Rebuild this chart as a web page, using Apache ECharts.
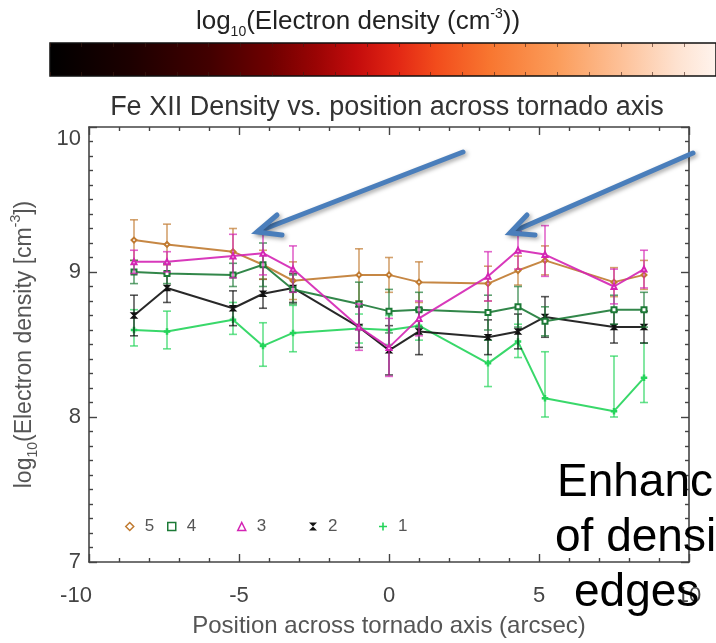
<!DOCTYPE html>
<html>
<head>
<meta charset="utf-8">
<script src="https://cdn.jsdelivr.net/npm/echarts@6/dist/echarts.min.js"></script>
<style>html,body{margin:0;padding:0;background:#fff;}#c{width:716px;height:643px;}</style>
</head>
<body>
<div id="c"></div>
<script>
// ---- data ----
const positions = [-8.5, -7.4, -5.2, -4.2, -3.2, -1.0, 0.0, 1.0, 3.3, 4.3, 5.2, 7.5, 8.5];
const xTicks = [-10, -5, 0, 5, 10];
const yTicks = [7, 8, 9, 10];

const dens5 = [9.22, 9.19, 9.14, 9.05, 8.94, 8.98, 8.98, 8.93, 8.92, 9.01, 9.08, 8.93, 8.98];
const up5   = [0.14, 0.14, 0.16, 0.10, 0.13, 0.18, 0.12, 0.14, 0.12, 0.10, 0.10, 0.10, 0.10];
const dn5   = [0.14, 0.14, 0.16, 0.10, 0.13, 0.18, 0.12, 0.14, 0.12, 0.10, 0.10, 0.10, 0.10];

const dens4 = [9.00, 8.99, 8.98, 9.05, 8.88, 8.78, 8.73, 8.74, 8.72, 8.76, 8.66, 8.74, 8.74];
const up4   = [0.08, 0.07, 0.08, 0.15, 0.10, 0.15, 0.15, 0.12, 0.12, 0.14, 0.10, 0.10, 0.12];
const dn4   = [0.08, 0.07, 0.08, 0.15, 0.10, 0.15, 0.15, 0.12, 0.12, 0.14, 0.10, 0.10, 0.12];

const dens3 = [9.07, 9.07, 9.11, 9.13, 9.02, 8.62, 8.48, 8.68, 8.97, 9.15, 9.12, 8.90, 9.02];
const up3   = [0.08, 0.07, 0.15, 0.15, 0.16, 0.16, 0.20, 0.12, 0.17, 0.13, 0.20, 0.12, 0.13];
const dn3   = [0.08, 0.07, 0.15, 0.15, 0.16, 0.16, 0.20, 0.12, 0.17, 0.13, 0.15, 0.12, 0.13];

const dens2 = [8.70, 8.89, 8.75, 8.85, 8.89, 8.62, 8.46, 8.59, 8.55, 8.59, 8.69, 8.62, 8.62];
const up2   = [0.14, 0.10, 0.12, 0.10, 0.10, 0.14, 0.17, 0.16, 0.12, 0.12, 0.14, 0.11, 0.11];
const dn2   = [0.14, 0.10, 0.12, 0.10, 0.10, 0.14, 0.17, 0.16, 0.12, 0.12, 0.14, 0.11, 0.11];

const dens1 = [8.60, 8.59, 8.67, 8.49, 8.58, 8.61, 8.60, 8.63, 8.37, 8.52, 8.13, 8.04, 8.27];
const up1   = [0.14, 0.14, 0.12, 0.16, 0.19, 0.10, 0.10, 0.10, 0.16, 0.12, 0.32, 0.38, 0.24];
const dn1   = [0.11, 0.12, 0.10, 0.14, 0.13, 0.10, 0.10, 0.10, 0.16, 0.11, 0.13, 0.04, 0.17];

const seriesNames = ['5', '4', '3', '2', '1'];
// ------------------------------------------------

const C5 = '#c07a30', C4 = '#1c7a36', C3 = '#d424b4', C2 = '#111111', C1 = '#24d45a';
const FONT = 'Liberation Sans, Arial, Helvetica, sans-serif';
const PLUS = 'path://M4,0h2v4h4v2h-4v4h-2v-4h-4v-2h4z';
const BOWTIE = 'path://M0,0L10,0L5,5L10,10L0,10L5,5Z';

function lineSeries(name, color, vals, symbol, z) {
  return {
    type: 'line', name: name, xAxisIndex: 0, yAxisIndex: 0,
    data: positions.map((x, i) => [x, vals[i]]),
    symbol: symbol, symbolSize: 5, showSymbol: true,
    lineStyle: { color: color, width: 2, opacity: 0.9 },
    itemStyle: { color: color, borderColor: color, borderWidth: 1.5 },
    z: z, animation: false, silent: true
  };
}
function errSeries(name, color, vals, up, dn, z) {
  return {
    type: 'custom', name: name, xAxisIndex: 0, yAxisIndex: 0,
    data: positions.map((x, i) => [x, vals[i] - dn[i], vals[i] + up[i]]),
    encode: { x: 0, y: [1, 2] },
    renderItem: function (params, api) {
      const lo = api.coord([api.value(0), api.value(1)]);
      const hi = api.coord([api.value(0), api.value(2)]);
      const w = 4;
      const st = { stroke: color, lineWidth: 1.6, opacity: 0.7 };
      return { type: 'group', children: [
        { type: 'line', shape: { x1: lo[0], y1: lo[1], x2: hi[0], y2: hi[1] }, style: st },
        { type: 'line', shape: { x1: lo[0] - w, y1: lo[1], x2: lo[0] + w, y2: lo[1] }, style: st },
        { type: 'line', shape: { x1: hi[0] - w, y1: hi[1], x2: hi[0] + w, y2: hi[1] }, style: st }
      ]};
    },
    z: z, animation: false, silent: true
  };
}

const axisLine = { show: true, onZero: false, lineStyle: { color: '#444', width: 1.6 } };
const tickStyle = { color: '#444', width: 1.4 };

const legendDefs = [
  { name: seriesNames[0], left: 120, icon: 'diamond', color: C5, empty: true },
  { name: seriesNames[1], left: 162, icon: 'rect', color: C4, empty: true },
  { name: seriesNames[2], left: 232, icon: 'triangle', color: C3, empty: true },
  { name: seriesNames[3], left: 304, icon: BOWTIE, color: C2, empty: false },
  { name: seriesNames[4], left: 374, icon: PLUS, color: C1, empty: false }
];

const chart = echarts.init(document.getElementById('c'), null, { renderer: 'canvas' });

const gradient = new echarts.graphic.LinearGradient(0, 0, 1, 0, [
  { offset: 0.00, color: '#000000' },
  { offset: 0.12, color: '#1c0000' },
  { offset: 0.24, color: '#420000' },
  { offset: 0.33, color: '#6e0000' },
  { offset: 0.40, color: '#9a0404' },
  { offset: 0.46, color: '#c40c0c' },
  { offset: 0.52, color: '#e22614' },
  { offset: 0.58, color: '#f24c1c' },
  { offset: 0.66, color: '#f87630' },
  { offset: 0.76, color: '#fb9c5a' },
  { offset: 0.86, color: '#fdc29a' },
  { offset: 0.94, color: '#fee2d0' },
  { offset: 1.00, color: '#fff4ee' }
]);

const option = {
  animation: false,
  backgroundColor: '#ffffff',
  textStyle: { fontFamily: FONT },
  title: [
    {
      text: '{a|log}{s|10}{a|(Electron density (cm}{p|-3}{a|))}',
      left: 'center', top: 0, itemGap: 0,
      textStyle: {
        rich: {
          a: { fontSize: 26, color: '#222', fontWeight: 'normal', fontFamily: FONT, lineHeight: 30, verticalAlign: 'bottom' },
          s: { fontSize: 14, color: '#222', fontWeight: 'normal', fontFamily: FONT, lineHeight: 30, verticalAlign: 'bottom', padding: [0, 0, -4, 0] },
          p: { fontSize: 14, color: '#222', fontWeight: 'normal', fontFamily: FONT, lineHeight: 30, verticalAlign: 'top', padding: [2, 0, 0, 0] }
        }
      }
    },
    {
      text: 'Fe XII Density vs. position across tornado axis',
      left: 382, textAlign: 'center', top: 89,
      textStyle: { fontSize: 27, color: '#333', fontWeight: 'normal', fontFamily: FONT }
    }
  ],
  legend: legendDefs.map(d => ({
    left: d.left, top: 513, orient: 'horizontal',
    itemWidth: 8, itemHeight: 8, selectedMode: false,
    textStyle: { fontSize: 17, color: '#555', fontFamily: FONT, padding: [0, 0, 0, 6] },
    data: [{
      name: d.name, icon: d.icon,
      itemStyle: d.empty ? { color: 'rgba(0,0,0,0)', borderColor: d.color, borderWidth: 1.5 }
                         : { color: d.color, borderWidth: 0 }
    }]
  })),
  grid: [
    { left: 87, right: 27, top: 127, bottom: 72, show: false },
    { left: 50, top: 43, width: 674, height: 33, show: true, backgroundColor: gradient, borderColor: '#111', borderWidth: 1.5 }
  ],
  xAxis: [
    {
      type: 'value', gridIndex: 0, position: 'bottom', min: xTicks[0], max: xTicks[xTicks.length - 1], interval: 5,
      axisLine: axisLine,
      axisTick: { show: true, inside: true, length: 8, lineStyle: tickStyle },
      minorTick: { show: true, splitNumber: 5, length: 4, lineStyle: tickStyle },
      splitLine: { show: false },
      axisLabel: {
        fontSize: 22, color: '#444', margin: 23, fontFamily: FONT,
        formatter: function (v) { return v === xTicks[0] ? '{m|' + v + '}' : String(v); },
        rich: { m: { fontSize: 22, color: '#444', fontFamily: FONT, padding: [0, 26, 0, 0] } }
      },
      name: 'Position across tornado axis (arcsec)', nameLocation: 'middle', nameGap: 52,
      nameTextStyle: { fontSize: 24, color: '#555', fontFamily: FONT }
    },
    {
      type: 'value', gridIndex: 0, position: 'top', min: xTicks[0], max: xTicks[xTicks.length - 1], interval: 5,
      axisLine: axisLine,
      axisTick: { show: true, inside: true, length: 8, lineStyle: tickStyle },
      minorTick: { show: true, splitNumber: 5, length: 4, lineStyle: tickStyle },
      splitLine: { show: false }, axisLabel: { show: false }
    },
    {
      type: 'value', gridIndex: 1, position: 'bottom', min: 0, max: 21, interval: 1,
      axisLine: { show: false, onZero: false }, splitLine: { show: false }, axisLabel: { show: false },
      axisTick: { show: true, inside: true, length: 4, lineStyle: { color: 'rgba(60,30,20,0.6)', width: 1 } }
    },
    {
      type: 'value', gridIndex: 1, position: 'top', min: 0, max: 21, interval: 1,
      axisLine: { show: false, onZero: false }, splitLine: { show: false }, axisLabel: { show: false },
      axisTick: { show: true, inside: true, length: 4, lineStyle: { color: 'rgba(60,30,20,0.6)', width: 1 } }
    }
  ],
  yAxis: [
    {
      type: 'value', gridIndex: 0, position: 'left', min: yTicks[0], max: yTicks[yTicks.length - 1], interval: 1,
      axisLine: axisLine,
      axisTick: { show: true, inside: true, length: 8, lineStyle: tickStyle },
      minorTick: { show: true, splitNumber: 10, length: 4, lineStyle: tickStyle },
      splitLine: { show: false },
      axisLabel: {
        fontSize: 22, color: '#444', margin: 8, fontFamily: FONT,
        formatter: function (v) { return v === yTicks[yTicks.length - 1] ? '{t|' + v + '}' : String(v); },
        rich: { t: { fontSize: 22, color: '#444', fontFamily: FONT, padding: [24, 0, 0, 0] } }
      },
      name: '{a|log}{s|10}{a|(Electron density [cm}{p|-3}{a|])}',
      nameLocation: 'middle', nameGap: 53, nameRotate: 90,
      nameTextStyle: {
        rich: {
          a: { fontSize: 23, color: '#555', fontFamily: FONT, lineHeight: 28, verticalAlign: 'bottom' },
          s: { fontSize: 14, color: '#555', fontFamily: FONT, lineHeight: 28, verticalAlign: 'bottom', padding: [0, 0, -4, 0] },
          p: { fontSize: 14, color: '#555', fontFamily: FONT, lineHeight: 28, verticalAlign: 'top', padding: [1, 0, 0, 0] }
        }
      }
    },
    {
      type: 'value', gridIndex: 0, position: 'right', min: yTicks[0], max: yTicks[yTicks.length - 1], interval: 1,
      axisLine: axisLine,
      axisTick: { show: true, inside: true, length: 8, lineStyle: tickStyle },
      minorTick: { show: true, splitNumber: 10, length: 4, lineStyle: tickStyle },
      splitLine: { show: false }, axisLabel: { show: false }
    },
    {
      type: 'value', gridIndex: 1, min: 0, max: 1, show: false
    }
  ],
  series: [
    lineSeries(seriesNames[4], C1, dens1, PLUS, 2),
    lineSeries(seriesNames[3], C2, dens2, BOWTIE, 3),
    lineSeries(seriesNames[0], C5, dens5, 'emptyDiamond', 4),
    lineSeries(seriesNames[1], C4, dens4, 'emptyRect', 5),
    lineSeries(seriesNames[2], C3, dens3, 'emptyTriangle', 6),
    errSeries(seriesNames[4], C1, dens1, up1, dn1, 2),
    errSeries(seriesNames[3], C2, dens2, up2, dn2, 3),
    errSeries(seriesNames[0], C5, dens5, up5, dn5, 4),
    errSeries(seriesNames[1], C4, dens4, up4, dn4, 5),
    errSeries(seriesNames[2], C3, dens3, up3, dn3, 6)
  ],
  graphic: [
    // annotation arrows
    { type: 'polyline', z: 100, shape: { points: [[463, 152], [259, 231]] },
      style: { stroke: '#4a7ebb', lineWidth: 5, lineCap: 'round', shadowBlur: 4, shadowColor: 'rgba(0,0,0,0.35)', shadowOffsetX: 2, shadowOffsetY: 2 } },
    { type: 'polyline', z: 100, shape: { points: [[277, 215], [257, 232], [282, 235]] },
      style: { stroke: '#4a7ebb', lineWidth: 5, lineCap: 'round', lineJoin: 'miter', fill: null, shadowBlur: 4, shadowColor: 'rgba(0,0,0,0.35)', shadowOffsetX: 2, shadowOffsetY: 2 } },
    { type: 'polyline', z: 100, shape: { points: [[693, 153], [512, 232]] },
      style: { stroke: '#4a7ebb', lineWidth: 5, lineCap: 'round', shadowBlur: 4, shadowColor: 'rgba(0,0,0,0.35)', shadowOffsetX: 2, shadowOffsetY: 2 } },
    { type: 'polyline', z: 100, shape: { points: [[527, 215], [510, 233], [535, 235]] },
      style: { stroke: '#4a7ebb', lineWidth: 5, lineCap: 'round', lineJoin: 'miter', fill: null, shadowBlur: 4, shadowColor: 'rgba(0,0,0,0.35)', shadowOffsetX: 2, shadowOffsetY: 2 } },
    // slide text
    { type: 'text', z: 110, left: 557, top: 460, style: { text: 'Enhanc', font: '46px ' + FONT, fill: '#000' } },
    { type: 'text', z: 110, left: 555, top: 515, style: { text: 'of densi', font: '46px ' + FONT, fill: '#000' } },
    { type: 'text', z: 110, left: 574, top: 570, style: { text: 'edges', font: '46px ' + FONT, fill: '#000' } }
  ]
};

chart.setOption(option);
</script>
</body>
</html>
